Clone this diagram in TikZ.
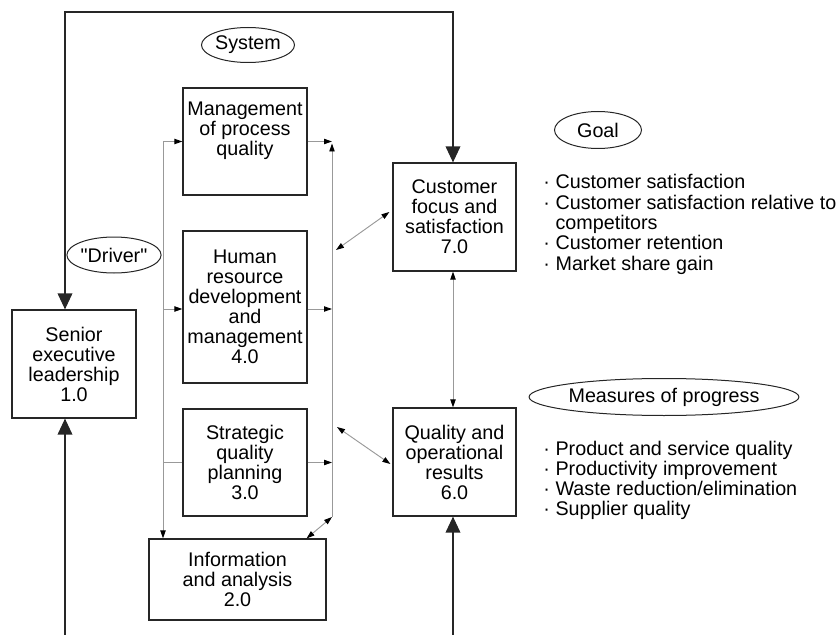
\documentclass[tikz,border=0pt]{standalone}
\usepackage{fontspec}
\setmainfont{Liberation Sans}[Ligatures=TeXOff]
\usetikzlibrary{arrows.meta,shapes.geometric,calc}

\tikzset{
  smallhead/.tip={Triangle[length=6pt,width=4pt,color=black]},
  bighead/.tip={Triangle[length=12pt,width=11pt]},
}
% list item marker and the hanging indent that follows it
\newcommand{\bul}{\textperiodcentered\hspace{4.3pt}}
\newcommand{\hang}{\phantom{\textperiodcentered}\hspace{4.3pt}}

\begin{document}
\begin{tikzpicture}[x=0.75pt,y=-0.75pt,
  font=\fontsize{14.8}{15}\selectfont,
  box/.style={draw=black!85, line width=0.9pt, rectangle, align=center,
    inner sep=0pt, minimum width=93pt},
  tag/.style={draw=black!85, line width=0.75pt, ellipse, inner sep=0pt},
  feed/.style={draw=black!40, line width=0.7pt},
  main/.style={draw=black!85, line width=1pt},
  bullets/.style={anchor=base west, inner sep=0pt},
]
\useasboundingbox (0,0) rectangle (840,635);

% category boxes
\node[box, minimum height=81pt] (sen) at (74,364)
  {Senior\\executive\\leadership\\1.0};
\node[box, minimum height=80.25pt] (mpq) at (245,141.5)
  {Management\\of process\\quality\\\strut};
\node[box, minimum height=114pt] (hrd) at (245,307)
  {Human\\resource\\development\\and\\management\\4.0};
\node[box, minimum height=80.25pt] (sqp) at (245,462.5)
  {Strategic\\quality\\planning\\3.0};
\node[box, minimum width=132.75pt, minimum height=60.75pt] (inf) at (237.5,579.5)
  {Information\\and analysis\\2.0};
\node[box, minimum width=92.25pt, minimum height=81pt] (cfs) at (454.5,217)
  {Customer\\focus and\\satisfaction\\7.0};
\node[box, minimum width=92.25pt, minimum height=81pt] (qor) at (454.5,462)
  {Quality and\\operational\\results\\6.0};

% role labels
\node[tag, minimum width=64.5pt, minimum height=26.25pt] (sys) at (248,45) {System};
\node[tag, minimum width=64.5pt, minimum height=27pt] (drv) at (114,255) {"Driver"};
\node[tag, minimum width=65.25pt, minimum height=27.75pt] (goal) at (598,130) {Goal};
\node[tag, minimum width=184.5pt, minimum height=27.75pt] (mop) at (664,397) {Measures of progress};

% bullet lists
\node[bullets] (glist) at (543,189) {%
  \begin{tabular}[t]{@{}l@{}}
  \bul Customer satisfaction\\
  \bul Customer satisfaction relative to\\
  \hang competitors\\
  \bul Customer retention\\
  \bul Market share gain
  \end{tabular}};
\node[bullets] (mlist) at (543,455) {%
  \begin{tabular}[t]{@{}l@{}}
  \bul Product and service quality\\
  \bul Productivity improvement\\
  \bul Waste reduction/elimination\\
  \bul Supplier quality
  \end{tabular}};

% leadership loop and external inputs
\coordinate (tl) at (65,12);
\coordinate (tr) at (453,12);
\coordinate (bl) at (65,635);
\coordinate (br) at (453,635);
\draw[main, {bighead}-{bighead}] (sen.north -| tl) -- (tl) -- (tr) -- (cfs.north -| tr);
\draw[main, -{bighead}] (bl) -- (sen.south -| bl);
\draw[main, -{bighead}] (br) -- (qor.south -| br);

% left distribution bus
\coordinate (lbus) at (163,0);
\draw[feed, -{smallhead}] (mpq.west -| lbus) -- (inf.north -| lbus);
\draw[feed, -{smallhead}] (mpq.west -| lbus) -- (mpq.west);
\draw[feed, -{smallhead}] ($(hrd.west -| lbus)+(0,2)$) -- ($(hrd.west)+(0,2)$);
\draw[feed] (sqp.west -| lbus) -- (sqp.west);

% right collection bus
\coordinate (rbus) at (332,0);
\coordinate (rbb) at (332,517);
\draw[feed, -{smallhead}] (rbb) -- ($(mpq.east -| rbus)+(0,2)$);
\draw[feed, -{smallhead}] (mpq.east) -- (mpq.east -| rbus);
\draw[feed, -{smallhead}] ($(hrd.east)+(0,2)$) -- ($(hrd.east -| rbus)+(0,2)$);
\draw[feed, -{smallhead}] (sqp.east) -- (sqp.east -| rbus);

% two-way links
\coordinate (cin) at (336,250);
\coordinate (qin) at (337,427);
\draw[feed, {smallhead}-{smallhead}] (cin) -- ($(cfs.west)+(-3,-5)$);
\draw[feed, {smallhead}-{smallhead}] (qin) -- ($(qor.west)+(-2,2)$);
\draw[feed, {smallhead}-{smallhead}] (rbb) -- ($(inf.north east)+(-20,0)$);
\draw[feed, {smallhead}-{smallhead}] (cfs.south -| tr) -- (qor.north -| tr);
\end{tikzpicture}
\end{document}
